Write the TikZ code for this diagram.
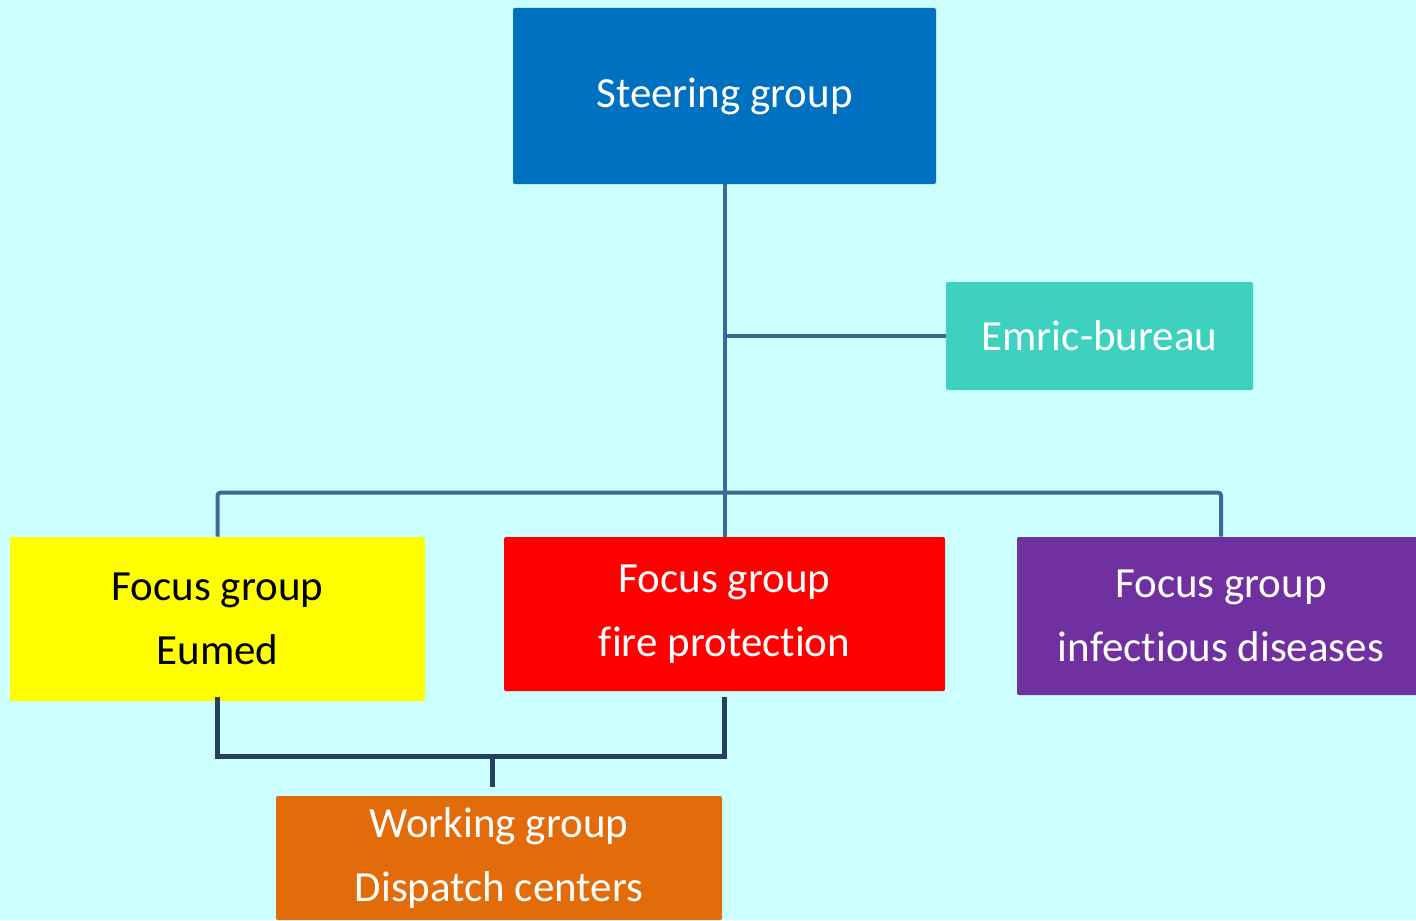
\documentclass[tikz,border=0pt]{standalone}
\usepackage{fontspec}
\setmainfont[Ligatures=NoCommon]{Carlito}
\definecolor{bg}{HTML}{CCFFFF}
\definecolor{steer}{HTML}{0070C0}
\definecolor{emric}{HTML}{3ED1BF}
\definecolor{fred}{HTML}{FF0000}
\definecolor{fyellow}{HTML}{FFFF00}
\definecolor{fpurple}{HTML}{7030A0}
\definecolor{forange}{HTML}{E36C0A}
\definecolor{linetop}{RGB}{62,103,150}
\definecolor{linebot}{HTML}{243F60}
\tikzset{
  box/.style={rectangle, rounded corners=1pt, inner sep=0pt, align=center,
    font=\fontsize{21.5}{32}\selectfont, text=white},
  conn/.style={draw=linetop, line width=2pt, rounded corners=1.5pt},
  botconn/.style={draw=linebot, line width=2.5pt},
}
\begin{document}
\begin{tikzpicture}[x=0.5pt,y=-0.5pt]
\useasboundingbox (0,0) rectangle (1416,920);
\clip (0,0) rectangle (1416,920);
\fill[bg] (0,0) rectangle (1416,920);

\node[box, fill=steer, minimum width=211.5pt, minimum height=88pt] (steer) at (724.5,96) {\raisebox{-1pt}{Steering group}};
\node[box, fill=emric, minimum width=153.5pt, minimum height=54pt] (emric) at (1099.5,336) {\raisebox{-1pt}{Emric-bureau}};
\node[box, fill=fyellow, text=black, minimum width=207.5pt, minimum height=82pt] (eumed) at (217.5,619) {\raisebox{-1pt}{Focus group}\\\raisebox{-1pt}{Eumed}};
\node[box, fill=fred, minimum width=220.5pt, minimum height=77pt] (fire) at (724.5,614) {\raisebox{-1pt}{Focus group}\\\raisebox{-1pt}{fire protection}};
\node[box, fill=fpurple, minimum width=204pt, minimum height=79pt] (inf) at (1221,616) {\raisebox{-1pt}{Focus group}\\\raisebox{-1pt}{infectious diseases}};
\node[box, fill=forange, minimum width=223pt, minimum height=62pt] (work) at (499,858) {\raisebox{-1pt}{Working group}\\\raisebox{-1pt}{Dispatch centers}};

\draw[conn] (steer.south) -- (fire.north);
\draw[conn] (steer.south |- emric.west) -- (emric.west);
\draw[conn] (eumed.north) -- ++(0,-44) -| (inf.north);

\coordinate (j) at (492,756);
\coordinate (jt) at (492,787);
\draw[botconn] ([yshift=2pt]eumed.south) |- (j);
\draw[botconn] ([yshift=-3pt]fire.south) |- (j);
\draw[botconn] (j) -- (jt);
\end{tikzpicture}
\end{document}
